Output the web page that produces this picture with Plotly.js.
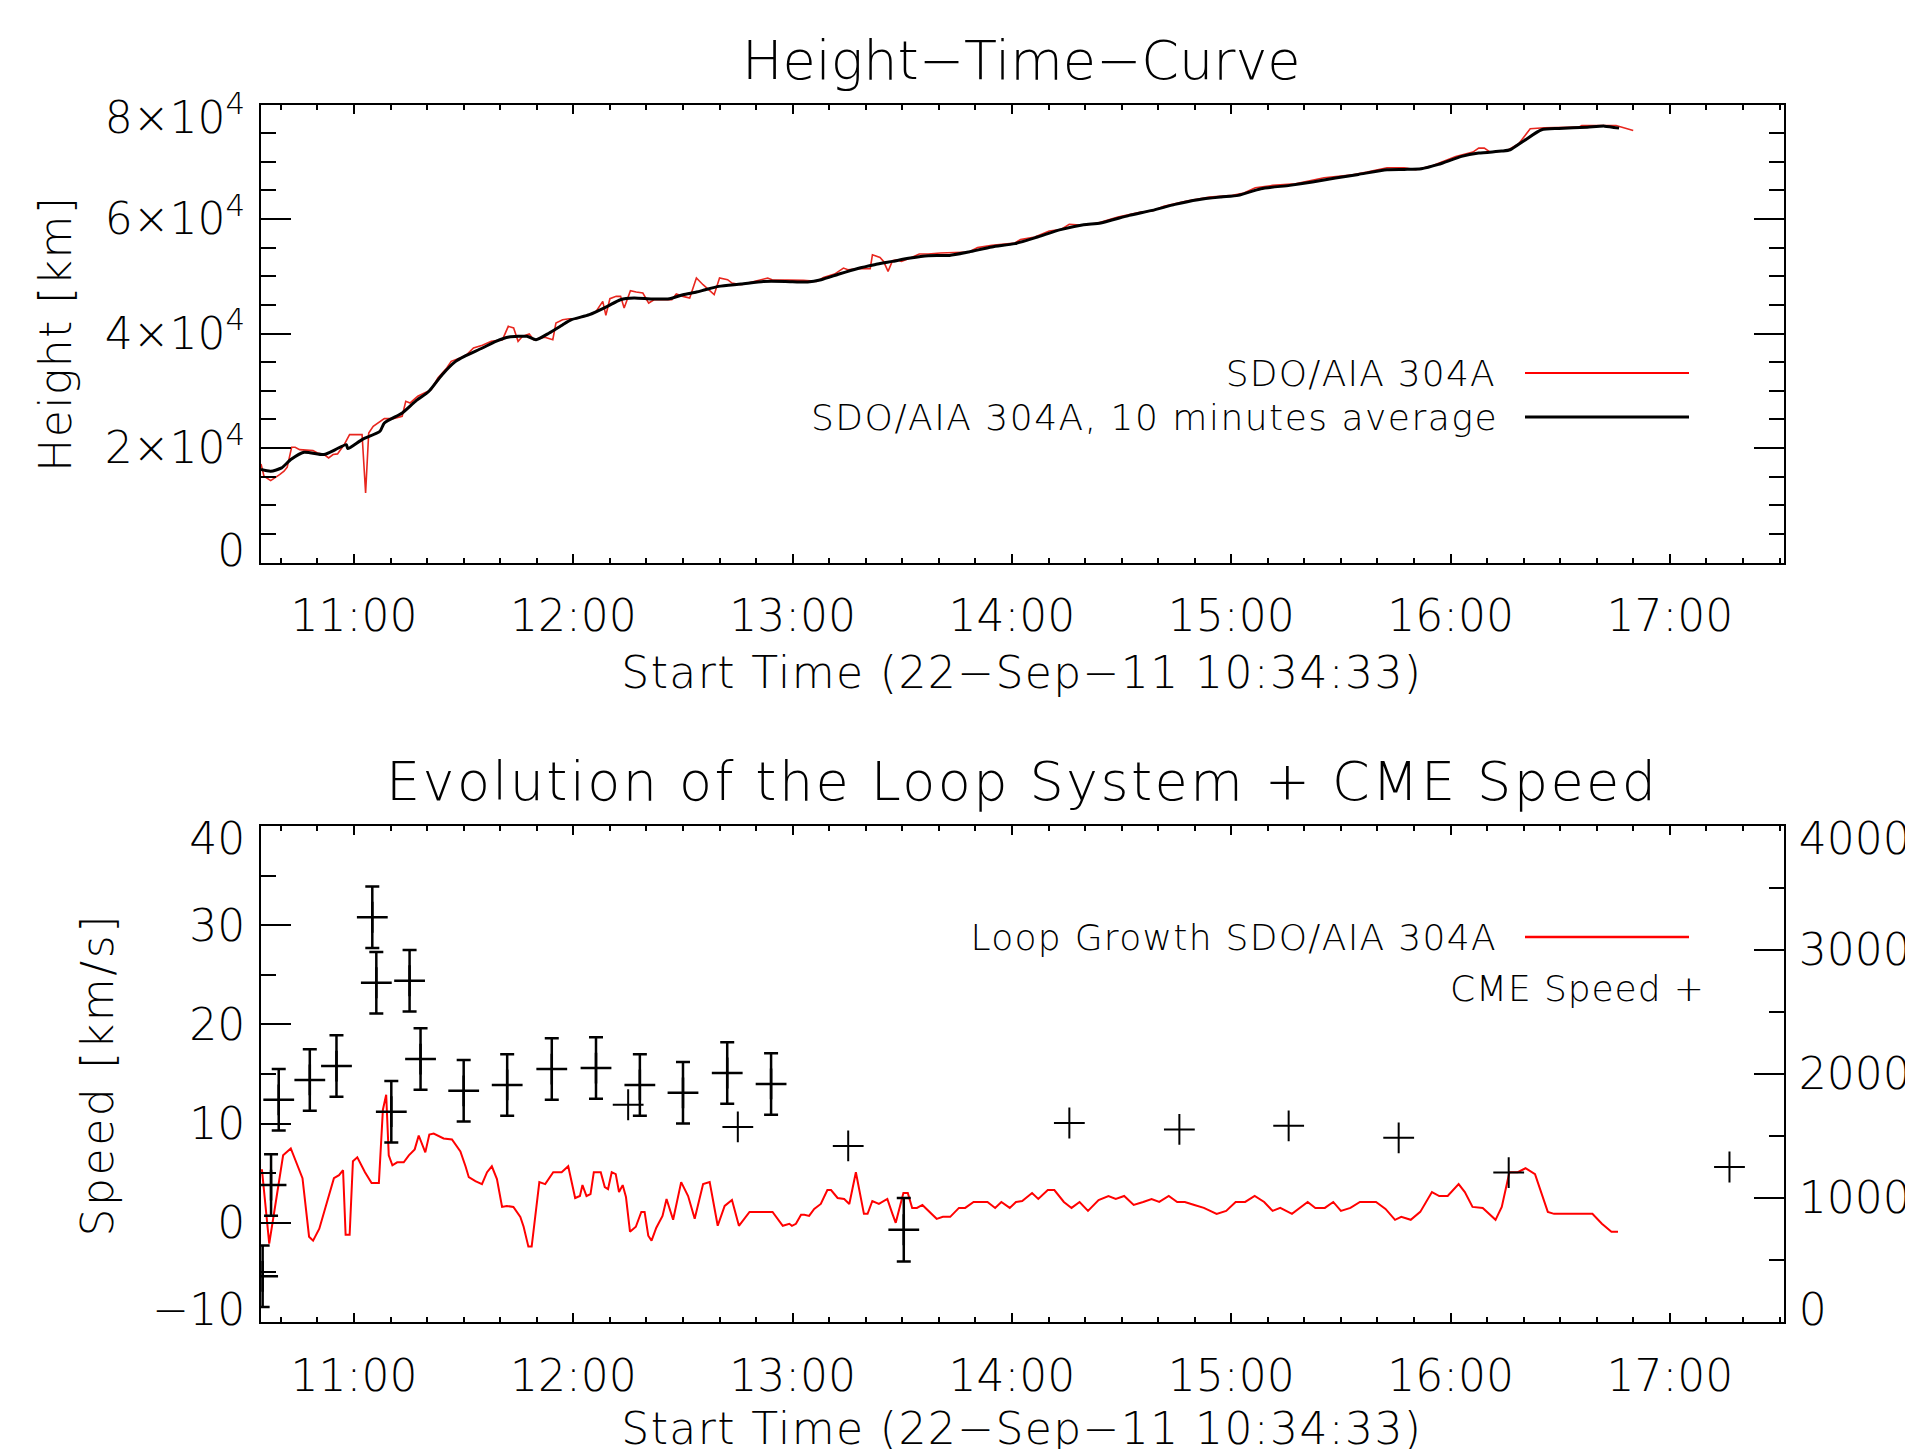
<!DOCTYPE html>
<html>
<head>
<meta charset="utf-8">
<script src="https://cdn.plot.ly/plotly-3.0.1.min.js"></script>
<style>
  html, body { margin: 0; padding: 0; background: #ffffff; }
  #chart { width: 1905px; height: 1449px; }
</style>
</head>
<body>
<div id="chart"></div>
<script>
// ---------------- DATA ----------------
const obsDate = '2011-09-22';

// Top panel: raw height (SDO/AIA 304A)
const rawTime = ['10:34:33','10:35:22','10:37:12','10:38:25','10:39:38','10:40:51','10:41:43','10:42:56','10:43:54','10:45:07','10:48:47','10:50:00','10:51:50','10:53:03','10:54:16','10:55:29','10:57:19','10:58:47','11:02:12','11:03:10','11:04:01','11:05:15','11:08:17','11:10:44','11:13:10','11:14:09','11:15:22','11:17:26','11:21:06','11:22:56','11:25:22','11:26:35','11:29:01','11:30:51','11:32:41','11:35:07','11:37:34','11:40:37','11:42:12','11:43:40','11:44:53','11:46:06','11:47:56','11:49:09','11:52:12','11:54:23','11:55:14','11:57:04','11:58:54','12:00:44','12:02:34','12:04:23','12:06:13','12:08:03','12:08:54','12:10:00','12:11:43','12:12:56','12:13:54','12:15:37','12:17:12','12:19:01','12:20:37','12:22:04','12:26:57','12:28:10','12:30:00','12:31:50','12:33:40','12:35:29','12:38:32','12:40:00','12:42:12','12:43:25','12:45:51','12:48:54','12:53:10','12:54:23','12:58:03','13:02:56','13:06:35','13:08:25','13:11:28','13:13:54','13:15:07','13:17:34','13:21:13','13:21:50','13:23:54','13:24:53','13:26:06','13:27:19','13:28:32','13:29:46','13:32:12','13:34:38','13:37:04','13:40:25','13:48:15','13:50:36','13:54:31','14:00:47','14:02:21','14:06:16','14:10:11','14:13:19','14:15:40','14:19:35','14:23:30','14:28:59','14:35:15','14:38:23','14:41:31','14:47:47','14:54:03','15:00:19','15:03:27','15:06:35','15:11:17','15:17:33','15:25:23','15:33:13','15:37:08','15:42:37','15:47:19','15:50:27','15:55:09','16:01:25','16:06:07','16:07:41','16:09:14','16:10:49','16:15:31','16:18:38','16:21:47','16:25:41','16:35:05','16:35:52','16:45:16','16:47:37','16:49:58'];
const rawHeight = [17221,15069,14312,14778,15360,15941,16639,20130,20130,19723,19548,19141,18850,18269,18850,18967,20596,22341,22341,12160,22632,23796,25134,25134,25541,28159,27868,29032,30195,32232,33977,35141,35722,36304,37468,37933,38632,38922,41250,40959,38632,39504,39911,38922,39330,38922,41831,42413,42588,42588,42995,43286,43868,45613,43170,46079,46486,46486,44450,47475,47242,47068,45322,45904,45904,46893,46486,46195,49686,48522,46777,49686,49395,48813,48522,48988,49686,49395,49395,49278,49104,49802,50384,51431,51140,51315,51315,53758,53293,52595,50849,52711,52886,52595,53177,53875,53875,54070,54245,55000,55407,55814,56396,56861,57907,58140,59070,58896,59303,60349,61221,61396,62210,63140,63838,64128,64535,65466,65873,66163,67210,67733,68198,68954,68954,68605,69361,70931,71687,72384,72384,71687,71977,73140,75756,75931,76047,76338,76338,75873,75466];

// Top panel: 10 minutes average
const avgTime = ['10:34:33','10:37:12','10:40:12','10:42:42','10:46:18','10:51:48','10:54:54','10:57:54','10:58:18','11:02:12','11:07:06','11:08:18','11:13:12','11:16:48','11:20:30','11:24:06','11:27:48','11:30:12','11:35:06','11:38:48','11:42:24','11:47:18','11:49:48','11:53:24','11:57:06','11:59:30','12:04:24','12:09:18','12:12:54','12:16:36','12:21:30','12:26:18','12:30:00','12:33:42','12:36:06','12:39:48','12:45:54','12:52:00','12:58:00','13:04:06','13:07:48','13:12:42','13:17:36','13:22:24','13:27:18','13:32:12','13:37:06','13:42:54','13:48:12','13:54:30','14:00:48','14:07:00','14:13:18','14:19:36','14:24:18','14:32:06','14:38:24','14:44:36','14:50:54','14:57:12','15:01:54','15:08:06','15:16:00','15:22:12','15:28:30','15:34:48','15:42:36','15:47:18','15:52:00','15:56:42','16:03:00','16:07:42','16:14:00','16:16:18','16:20:12','16:24:54','16:29:36','16:37:24','16:42:06','16:46:06'];
const avgHeight = [16232,15941,16523,17978,19258,18850,19723,20596,19898,21468,22923,24377,26122,28159,29905,32813,35140,36013,37468,38632,39388,39504,38922,40086,41540,42413,43286,44740,45904,46195,46021,46079,46777,47242,47649,48231,48638,49104,49104,48987,49395,50384,51315,52012,52594,53176,53584,53642,54245,55117,55698,56861,58140,59012,59303,60640,61512,62559,63373,63838,64129,65291,65873,66454,67152,67791,68605,68663,68780,69536,70931,71512,71861,72094,73722,75582,75815,76047,76222,75873];

// Bottom panel: loop growth speed (km/s)
const loopTime = ['10:34:48','10:35:42','10:36:48','10:38:36','10:40:36','10:42:42','10:44:30','10:45:54','10:47:42','10:48:48','10:50:30','10:52:42','10:54:30','10:55:54','10:57:00','10:57:42','10:58:48','10:59:42','11:00:54','11:03:00','11:04:48','11:06:48','11:07:54','11:08:48','11:09:30','11:10:30','11:11:48','11:13:36','11:15:00','11:16:36','11:17:42','11:19:30','11:20:36','11:21:48','11:24:30','11:26:48','11:29:06','11:30:30','11:31:24','11:33:12','11:35:00','11:36:24','11:37:42','11:39:06','11:40:30','11:41:48','11:43:36','11:45:30','11:46:24','11:47:42','11:48:36','11:50:42','11:52:18','11:54:30','11:56:48','11:58:36','12:00:30','12:01:48','12:02:30','12:03:36','12:04:42','12:05:36','12:07:30','12:08:36','12:09:30','12:10:30','12:11:36','12:12:30','12:13:30','12:14:24','12:15:30','12:17:06','12:18:36','12:19:30','12:20:30','12:21:24','12:22:42','12:24:24','12:25:30','12:27:18','12:29:30','12:31:24','12:33:12','12:35:30','12:37:18','12:39:30','12:41:24','12:43:24','12:45:18','12:48:12','12:54:30','12:57:18','12:59:06','12:59:48','13:00:54','13:02:18','13:03:12','13:04:30','13:05:54','13:07:42','13:09:30','13:10:30','13:12:18','13:14:06','13:15:30','13:17:18','13:19:30','13:20:30','13:21:48','13:23:36','13:25:54','13:27:18','13:28:12','13:30:18','13:31:30','13:32:42','13:34:00','13:35:30','13:37:18','13:39:24','13:41:06','13:43:06','13:45:30','13:47:12','13:49:30','13:53:18','13:55:24','13:57:06','13:59:24','14:01:06','14:02:48','14:05:30','14:07:12','14:09:48','14:11:36','14:14:12','14:16:18','14:18:30','14:20:48','14:23:42','14:26:24','14:28:24','14:30:42','14:33:18','14:35:54','14:38:12','14:40:18','14:42:54','14:45:12','14:47:18','14:49:54','14:52:30','14:56:00','14:58:36','15:01:12','15:03:48','15:06:24','15:09:00','15:11:18','15:13:24','15:16:36','15:18:36','15:20:54','15:23:00','15:25:36','15:27:54','15:30:00','15:32:36','15:35:12','15:39:36','15:42:12','15:44:48','15:46:30','15:49:06','15:51:42','15:54:54','15:56:54','15:59:12','16:02:12','16:03:54','16:06:00','16:08:48','16:12:18','16:14:00','16:16:06','16:18:24','16:20:30','16:23:06','16:24:48','16:26:36','16:28:18','16:38:48','16:41:24','16:44:00','16:45:48'];
const loopSpeed = [5.4,1.7,-2.1,2.1,6.8,7.5,5.7,4.5,-1.4,-1.8,-0.6,2.1,4.5,4.8,5.3,-1.2,-1.2,6.2,6.6,5.1,4.0,4.0,11.4,12.9,6.8,5.8,6.1,6.1,6.8,7.4,8.8,7.1,8.9,9.0,8.5,8.4,7.2,5.7,4.6,4.2,3.9,5.1,5.7,4.4,1.6,1.7,1.6,0.6,-0.4,-2.4,-2.4,4.1,3.9,5.1,5.1,5.7,2.5,2.7,3.8,2.7,2.9,5.1,5.1,3.6,3.4,5.1,4.9,3.1,3.8,2.6,-0.9,-0.4,1.1,1.1,-1.3,-1.8,-0.5,0.7,2.4,0.3,4.1,2.7,0.4,3.9,4.1,-0.3,1.7,2.3,-0.3,1.1,1.1,-0.3,-0.1,-0.3,-0.1,0.8,0.8,0.7,1.4,1.9,3.3,3.3,2.5,2.4,1.9,5.1,0.9,0.9,2.2,1.9,2.4,0.9,0.0,3.0,3.0,1.5,1.5,1.8,1.2,0.4,0.6,0.6,1.5,1.5,2.1,2.1,1.5,2.1,1.5,2.1,2.2,3.0,2.4,3.3,3.3,2.1,1.5,2.1,1.2,2.3,2.7,2.4,2.7,1.8,2.1,2.4,2.1,2.7,2.1,2.1,1.8,1.5,0.9,1.2,2.1,2.1,2.7,2.1,1.2,1.5,0.9,1.5,2.1,1.5,1.5,2.1,1.2,1.5,2.1,2.1,1.4,0.3,0.6,0.3,1.1,3.1,2.7,2.7,3.9,3.1,1.6,1.5,0.3,1.6,5.1,5.1,5.5,4.9,3.1,1.1,0.9,0.9,-0.1,-0.9,-0.9];

// Bottom panel: loop speeds with error bars (km/s)
const errTime = ['10:35:00','10:37:18','10:39:24','10:47:54','10:55:12','11:05:00','11:06:06','11:10:12','11:15:12','11:18:12','11:30:00','11:41:54','11:54:06','12:06:12','12:18:12','12:30:00','12:42:06','12:54:06','13:30:24'];
const errSpeed = [-5.4,3.8,12.4,14.4,15.8,30.8,24.2,11.2,24.4,16.5,13.3,13.9,15.5,15.6,13.9,13.1,15.1,14.0,-0.7];
const errBar = [3.1,3.1,3.1,3.1,3.1,3.1,3.1,3.1,3.1,3.1,3.1,3.1,3.1,3.1,3.1,3.1,3.1,3.1,3.2];

// Bottom panel: CME speed (km/s, right axis)
const cmeTime = ['12:15:00','12:45:00','13:15:12','14:15:42','14:45:48','15:15:42','15:45:48','16:15:54','17:16:18'];
const cmeSpeed = [1752,1573,1420,1605,1553,1582,1485,1205,1250];

// Axis tick labels
const heightTickVals = [0,20000,40000,60000,80000];
const heightTickText = ['0','2×10<sup>4</sup>','4×10<sup>4</sup>','6×10<sup>4</sup>','8×10<sup>4</sup>'];

// Texts
const title1 = 'Height−Time−Curve';
const title2 = 'Evolution of the Loop System + CME Speed';
const xTitle = 'Start Time (22−Sep−11 10:34:33)';
const yTitle1 = 'Height [km]';
const yTitle2 = 'Speed [km/s]';
const legRaw = 'SDO/AIA 304A';
const legAvg = 'SDO/AIA 304A, 10 minutes average';
const legLoop = 'Loop Growth SDO/AIA 304A';
const legCme = 'CME Speed +';

// ---------------- BUILD ----------------
const D = t => obsDate + ' ' + t;
const FONT = 'DejaVu Sans, Liberation Sans, sans-serif';
const W = 1905, H = 1449;
const px = x => x / W;
const py = y => 1 - y / H;

const traces = [
  { x: rawTime.map(D), y: rawHeight, xaxis: 'x', yaxis: 'y', mode: 'lines',
    line: { color: '#e8261e', width: 1.6 }, showlegend: false, hoverinfo: 'skip' },
  { x: avgTime.map(D), y: avgHeight, xaxis: 'x', yaxis: 'y', mode: 'lines',
    line: { color: '#000000', width: 3, shape: 'spline', smoothing: 0.6 }, showlegend: false, hoverinfo: 'skip' },
  { x: loopTime.map(D), y: loopSpeed, xaxis: 'x2', yaxis: 'y2', mode: 'lines',
    line: { color: '#ff0000', width: 2 }, showlegend: false, hoverinfo: 'skip' },
  { x: errTime.map(D), y: errSpeed, xaxis: 'x2', yaxis: 'y2', mode: 'markers',
    marker: { symbol: 'cross-thin', size: 22, color: '#000', line: { color: '#000', width: 2.5 } },
    error_y: { type: 'data', array: errBar, visible: true, color: '#000', thickness: 2.5, width: 7 },
    showlegend: false, hoverinfo: 'skip' },
  { x: cmeTime.map(D), y: cmeSpeed, xaxis: 'x2', yaxis: 'y3', mode: 'markers',
    marker: { symbol: 'cross-thin', size: 22, color: '#000', line: { color: '#000', width: 2 } },
    showlegend: false, hoverinfo: 'skip' }
];

const xDomain = [px(261), px(1784)];
const xRange = [D('10:34:33'), D('17:31:13')];
const tickFont = { family: FONT, size: 44, color: '#000', weight: 200 };

function xAxis(anchor) {
  return {
    domain: xDomain, anchor: anchor, type: 'date', range: xRange,
    tickformat: '%H:%M', tick0: D('11:00:00'), dtick: 3600000,
    ticks: 'inside', ticklen: 9, tickwidth: 2, tickcolor: '#000',
    minor: { dtick: 600000, ticks: 'inside', ticklen: 5, tickwidth: 2, tickcolor: '#000', showgrid: false },
    showline: true, linewidth: 2, linecolor: '#000', mirror: 'ticks',
    showgrid: false, zeroline: false, tickfont: tickFont, ticklabelstandoff: 14
  };
}

function ann(text, x, y, size, anchor, angle, spacing) {
  return { text: text, xref: 'paper', yref: 'paper', x: px(x), y: py(y), xanchor: anchor, yanchor: 'middle',
    textangle: angle || 0, showarrow: false, font: { family: FONT, size: size, color: '#000', weight: 200 },
    _spacing: spacing };
}

// letter spacing (px) per annotation, applied after drawing
const annDefs = [
  ann(title1, 1022, 61, 54, 'center', 0, 0),
  ann(xTitle, 1022, 672, 44, 'center', 0, 1.4),
  ann(yTitle1, 55, 334, 44, 'center', -90, 1.4),
  ann(title2, 1022, 781, 54, 'center', 0, 2.4),
  ann(xTitle, 1022, 1428, 44, 'center', 0, 1.4),
  ann(yTitle2, 97, 1075, 44, 'center', -90, 2.6),
  ann(legRaw, 1361, 373, 36, 'center', 0, 1.2),
  ann(legAvg, 1154, 417, 36, 'center', 0, 1.5),
  ann(legLoop, 1233, 937, 36, 'center', 0, 1.3),
  ann(legCme, 1577, 988, 36, 'center', 0, 0.9)
];
const spacings = annDefs.map(a => a._spacing);
annDefs.forEach(a => { delete a._spacing; });

const layout = {
  width: W, height: H,
  margin: { l: 0, r: 0, t: 0, b: 0 },
  paper_bgcolor: '#fff', plot_bgcolor: '#fff',
  showlegend: false,
  xaxis: xAxis('y'),
  yaxis: {
    domain: [py(562.5), py(104.5)], anchor: 'x', range: [0, 80000],
    tickvals: heightTickVals, ticktext: heightTickText,
    ticks: 'inside', ticklen: 30, tickwidth: 2, tickcolor: '#000',
    minor: { dtick: 5000, ticks: 'inside', ticklen: 15, tickwidth: 2, tickcolor: '#000', showgrid: false },
    showline: true, linewidth: 2, linecolor: '#000', mirror: 'ticks',
    showgrid: false, zeroline: false, tickfont: tickFont, ticklabelstandoff: 5
  },
  xaxis2: xAxis('y2'),
  yaxis2: {
    domain: [py(1322), py(826)], anchor: 'x2', range: [-10, 40], dtick: 10, tick0: 0,
    ticks: 'inside', ticklen: 30, tickwidth: 2, tickcolor: '#000',
    minor: { dtick: 5, ticks: 'inside', ticklen: 15, tickwidth: 2, tickcolor: '#000', showgrid: false },
    showline: true, linewidth: 2, linecolor: '#000', mirror: false,
    showgrid: false, zeroline: false, tickfont: tickFont, ticklabelstandoff: 5
  },
  yaxis3: {
    overlaying: 'y2', side: 'right', anchor: 'x2', range: [0, 4000], dtick: 1000, tick0: 0,
    ticks: 'inside', ticklen: 30, tickwidth: 2, tickcolor: '#000',
    minor: { dtick: 500, ticks: 'inside', ticklen: 15, tickwidth: 2, tickcolor: '#000', showgrid: false },
    showline: true, linewidth: 2, linecolor: '#000',
    showgrid: false, zeroline: false, tickfont: tickFont, ticklabelstandoff: 4
  },
  annotations: annDefs,
  shapes: [
    { type: 'line', xref: 'paper', yref: 'paper', x0: px(1525), x1: px(1689), y0: py(373), y1: py(373),
      line: { color: '#ff0000', width: 2 } },
    { type: 'line', xref: 'paper', yref: 'paper', x0: px(1525), x1: px(1689), y0: py(417), y1: py(417),
      line: { color: '#000', width: 3 } },
    { type: 'line', xref: 'paper', yref: 'paper', x0: px(1525), x1: px(1689), y0: py(937), y1: py(937),
      line: { color: '#ff0000', width: 2.5 } }
  ]
};

Plotly.newPlot('chart', traces, layout, { staticPlot: true, displayModeBar: false }).then(gd => {
  // wider letter spacing, like the original vector font
  const texts = gd.querySelectorAll('.annotation .annotation-text');
  texts.forEach((t, i) => {
    if (spacings[i]) t.style.letterSpacing = spacings[i] + 'px';
  });
  // pull the end labels of each y axis inward, as in the original
  const shiftEnds = (cls, lo, hi) => {
    gd.querySelectorAll('g.' + cls + ' text').forEach(t => {
      const d = t.__data__;
      if (!d) return;
      const tr = t.getAttribute('transform') || '';
      if (d.x === hi) t.setAttribute('transform', tr + ' translate(0,13)');
      else if (d.x === lo) t.setAttribute('transform', tr + ' translate(0,-12)');
    });
  };
  shiftEnds('ytick', 0, 80000);
  shiftEnds('y2tick', -10, 40);
  shiftEnds('y3tick', 0, 4000);
});
</script>
</body>
</html>
